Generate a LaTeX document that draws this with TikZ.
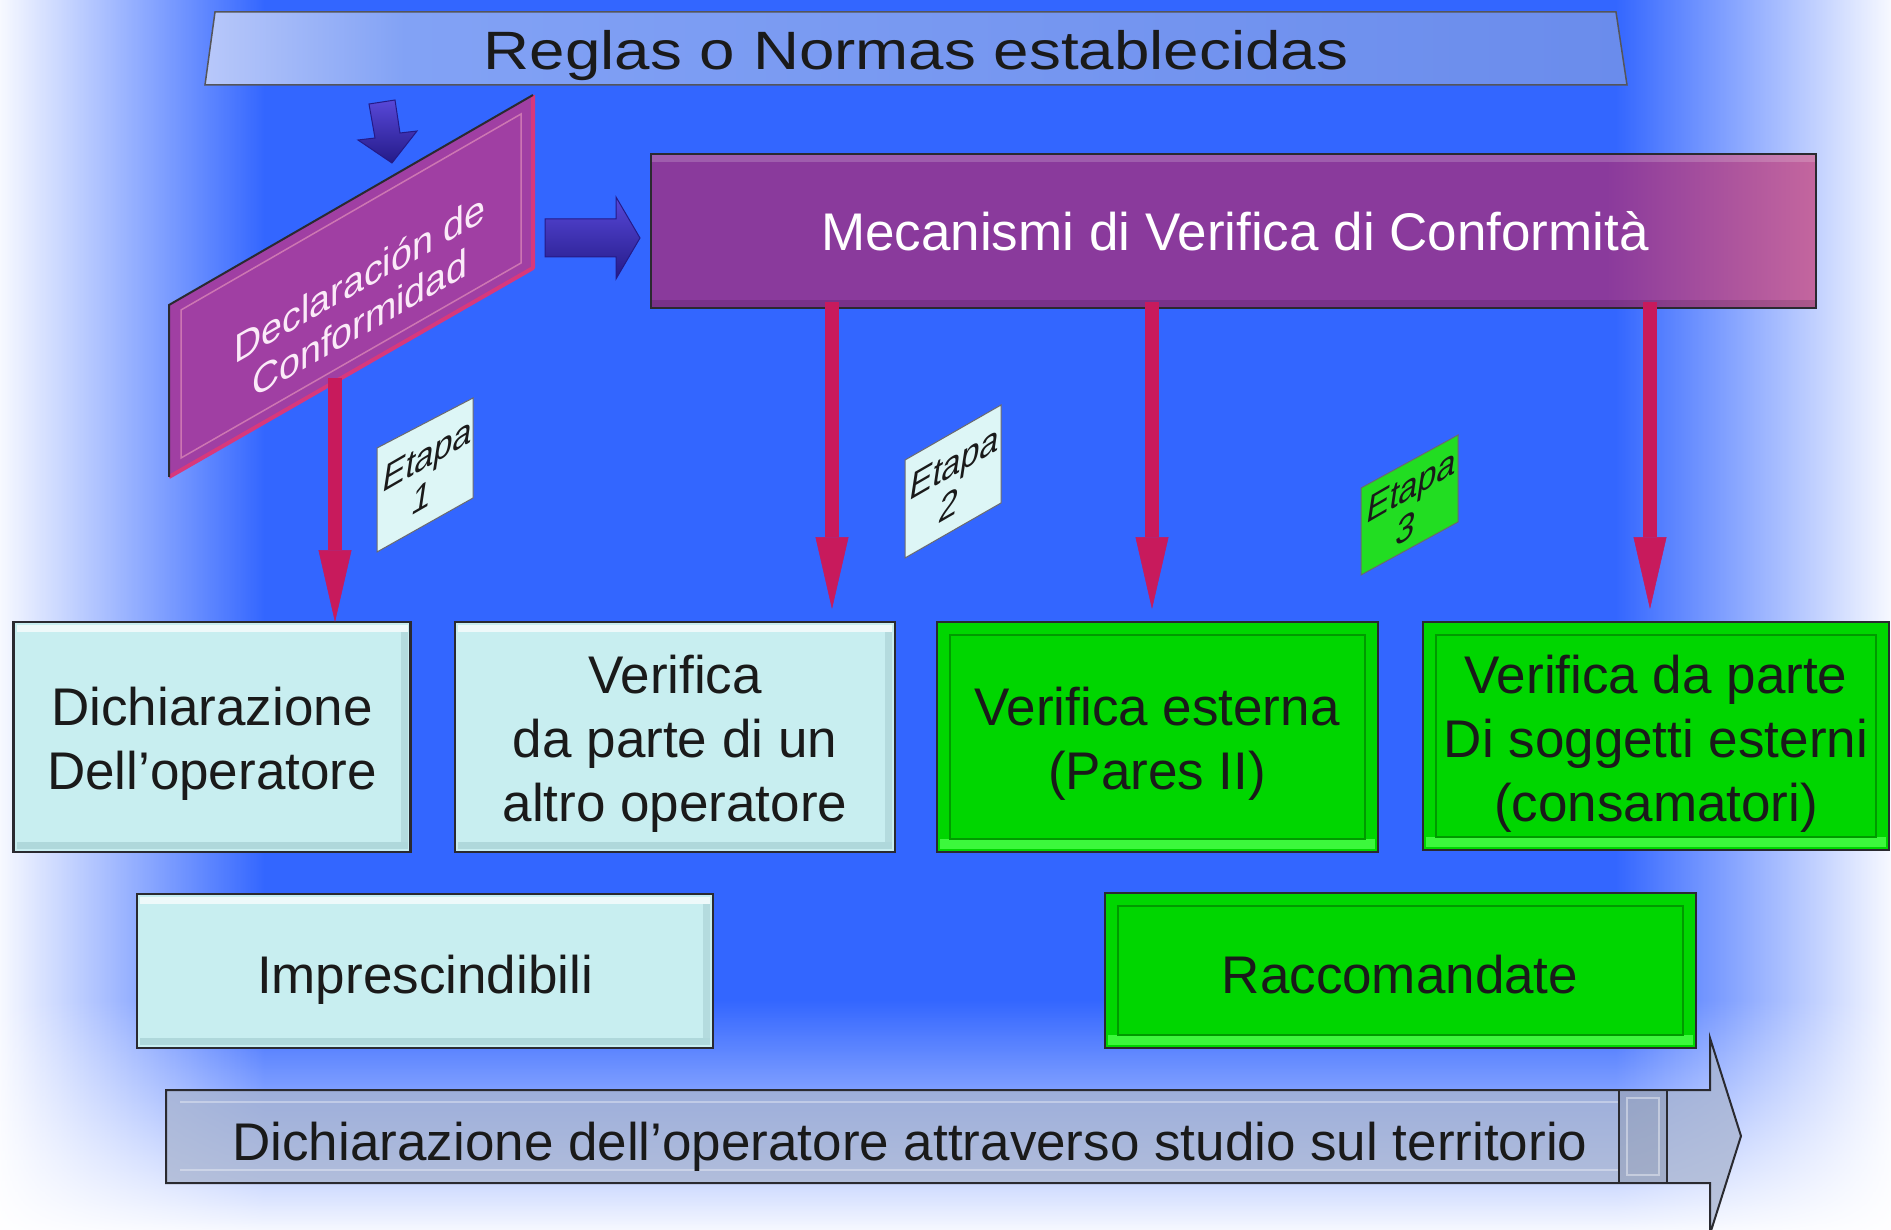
\documentclass[tikz,border=0pt]{standalone}
\usepackage{fontspec}
\setmainfont{Liberation Sans}
\usetikzlibrary{arrows.meta,calc,fadings}

\definecolor{bgblue}{HTML}{3366FF}
\definecolor{cyanfill}{HTML}{C8EEF0}
\definecolor{cyanlo}{HTML}{9CC6CA}
\definecolor{greenfill}{HTML}{00D600}
\definecolor{greenhi}{HTML}{3CF83C}
\definecolor{greenlo}{HTML}{009A00}
\definecolor{crimson}{HTML}{C81A5C}
\definecolor{mecL}{HTML}{8A3A9C}
\definecolor{mecR}{HTML}{C4669E}
\definecolor{declfill}{HTML}{A03FA3}
\definecolor{declpink}{HTML}{D8387C}
\definecolor{declt}{HTML}{FBEAF8}
\definecolor{navyhi}{HTML}{5848D8}
\definecolor{navylo}{HTML}{241A88}
\definecolor{etapacyan}{HTML}{DDF6F6}
\definecolor{etapagreen}{HTML}{22DD22}
\definecolor{edge}{HTML}{2A2A30}
\definecolor{banL}{HTML}{B8C8FA}
\definecolor{banM}{HTML}{82A2F5}
\definecolor{banR}{HTML}{6A8CEC}
\definecolor{arrowfill}{HTML}{A8B4D0}
\definecolor{darktext}{HTML}{1A1A1A}

\pgfdeclarehorizontalshading{mecshade}{100bp}{color(0bp)=(mecL); color(25bp)=(mecL); color(66bp)=(mecL); color(75bp)=(mecR); color(100bp)=(mecR)}
\pgfdeclarehorizontalshading{banshade}{100bp}{color(0bp)=(banL); color(25bp)=(banL); color(32bp)=(banM); color(75bp)=(banR); color(100bp)=(banR)}

\tikzfading[name=fadeL, left color=transparent!0, right color=transparent!100]
\tikzfading[name=fadeR, left color=transparent!100, right color=transparent!0]
\tikzfading[name=fadeB, top color=transparent!100, bottom color=transparent!0]

\tikzset{
  txt/.style={font=\fontsize{53}{64}\selectfont, align=center, text=darktext, inner sep=0pt},
  cyanbox/.style={draw=edge, line width=2.5pt, fill=cyanfill, inner sep=0pt, outer sep=0pt},
  greenbox/.style={draw=edge, line width=2.5pt, fill=greenfill, inner sep=0pt, outer sep=0pt},
  redarrow/.style={draw=crimson, line width=14pt, -{Triangle[width=33pt,length=72pt,line width=0.5pt]}},
  etapat/.style={font=\fontsize{40}{43}\selectfont, align=center, cm={0.85,0.49,0.15,1,(0,0)}, inner sep=0pt, text=darktext},
  etapabox/.style={draw=edge!70, line width=1pt},
  decltxt/.style={font=\fontsize{40}{45}\selectfont, align=center, cm={0.94,0.54,0,1,(0,0)}, inner sep=0pt, text=declt},
}

\newcommand{\gbevel}[1]{%
  \fill[greenhi] ($(#1.south west)+(3,-3)$) rectangle ($(#1.south east)+(-3,-13)$);
  \draw[greenlo, line width=1.5pt] ($(#1.north west)+(13,13)$) rectangle ($(#1.south east)+(-13,-13)$);
}
\newcommand{\cbevel}[1]{%
  \fill[white, opacity=.7] ($(#1.north west)+(3,3)$) rectangle ($(#1.north east)+(-3,10)$);
  \fill[cyanlo, opacity=.55] ($(#1.south west)+(3,-3)$) rectangle ($(#1.south east)+(-3,-10)$);
  \fill[cyanlo, opacity=.45] ($(#1.north east)+(-3,10)$) rectangle ($(#1.south east)+(-10,-10)$);
}

\begin{document}
\begin{tikzpicture}[x=1pt,y=-1pt]
\useasboundingbox (0,0) rectangle (1891,1230);
% background
\fill[bgblue] (-10,-10) rectangle (1901,1240);
\fill[white, path fading=fadeL] (-10,-20) rectangle (265,1250);
\fill[white, path fading=fadeR] (1615,-20) rectangle (1901,1250);
\fill[white, path fading=fadeB] (-20,1000) rectangle (1911,1240);

% banner
\shadedraw[shading=banshade, draw=edge!80, line width=1.5pt] (215,12) -- (1616,12) -- (1627,85) -- (205,85) -- cycle;
\node[font=\fontsize{54}{60}\selectfont, text=darktext, anchor=base, inner sep=0pt] (reglas) at (916,70) {\scalebox{1.18}[1]{Reglas o Normas establecidas}};

% small navy arrow
\shadedraw[top color=navyhi, bottom color=navylo, draw=navylo, line width=1pt]
  (395,100) -- (369,104) -- (375,138) -- (358,140) -- (392,163) -- (417,131) -- (400,133) -- cycle;

% Declaracion box
\fill[declfill] (169,305) -- (533,95) -- (533,268) -- (169,477) -- cycle;
\draw[declpink!50!white, line width=1.5pt, opacity=.6] (181,310) -- (521,114) -- (521,263) -- (181,458) -- cycle;
\draw[declpink, line width=4pt, line join=round] (533,95) -- (533,268) -- (169,477);
\draw[edge, line width=2pt] (169,477) -- (169,305) -- (533,95);
\node[decltxt] (decl) at (360,300) {Declaración de\\Conformidad};

% navy arrow to Mecanismi
\shadedraw[top color=navyhi, bottom color=navylo, draw=navylo, line width=1pt]
  (545,219) -- (616,219) -- (616,197) -- (640,238) -- (616,279) -- (616,257) -- (545,257) -- cycle;

% Mecanismi box
\node[shade, shading=mecshade, draw=edge, line width=2pt, minimum width=1165pt, minimum height=154pt, inner sep=0pt] (mec) at (1233.5,231) {};
\fill[white, opacity=.18] ($(mec.north west)+(2,2)$) rectangle ($(mec.north east)+(-2,9)$);
\fill[black, opacity=.12] ($(mec.south west)+(2,-2)$) rectangle ($(mec.south east)+(-2,-9)$);
\node[txt, text=white, anchor=base] (mectxt) at (1235,251) {Mecanismi di Verifica di Conformità};

% Etapa labels
\filldraw[etapabox, fill=etapacyan] (377,448) -- (473,398) -- (473,498) -- (377,552) -- cycle;
\node[etapat] (e1) at (425,476) {Etapa\\1};
\filldraw[etapabox, fill=etapacyan] (905,460) -- (1001,405) -- (1001,503) -- (905,558) -- cycle;
\node[etapat] (e2) at (952,484) {Etapa\\2};
\filldraw[etapabox, fill=etapagreen] (1361,488) -- (1458,435) -- (1458,522) -- (1361,575) -- cycle;
\node[etapat] (e3) at (1409,507) {Etapa\\3};

% row 1 boxes
\node[cyanbox, minimum width=397pt, minimum height=230pt] (b1) at (212,737) {};
\cbevel{b1}
\node[txt] (l1) at (212,744) {Dichiarazione\\Dell’operatore};
\node[cyanbox, minimum width=440pt, minimum height=230pt] (b2) at (675,737) {};
\cbevel{b2}
\node[txt] (l2) at (675,744) {Verifica\\da parte di un\\altro operatore};
\node[greenbox, minimum width=441pt, minimum height=230pt] (b3) at (1157.5,737) {};
\gbevel{b3}
\node[txt] (l3) at (1157,744) {Verifica esterna\\(Pares II)};
\node[greenbox, minimum width=466pt, minimum height=228pt] (b4) at (1656,736) {};
\gbevel{b4}
\node[txt] (l4) at (1656,744) {Verifica da parte\\Di soggetti esterni\\(consamatori)};

% row 2 boxes
\node[cyanbox, minimum width=576pt, minimum height=154pt] (b5) at (425,971) {};
\cbevel{b5}
\node[txt, anchor=base] (l5) at (425,993) {Imprescindibili};
\node[greenbox, minimum width=591pt, minimum height=155pt] (b6) at (1400.5,970.5) {};
\gbevel{b6}
\node[txt, anchor=base] (l6) at (1400,993) {Raccomandate};

% red arrows
\coordinate (dfoot) at (335,378);
\coordinate (m2) at (832,302);
\coordinate (m3) at (1152,302);
\coordinate (m4) at (1650,302);
\draw[redarrow] (dfoot) -- (dfoot |- b1.north);
\draw[redarrow] (m2) -- ($(m2 |- b2.north)+(0,-13)$);
\draw[redarrow] (m3) -- ($(m3 |- b3.north)+(0,-13)$);
\draw[redarrow] (m4) -- ($(m4 |- b4.north)+(0,-13)$);

% bottom arrow
\fill[arrowfill, fill opacity=.75] (166,1090) -- (1710,1090) -- (1710,1038) -- (1741,1136) -- (1710,1234) -- (1710,1183) -- (166,1183) -- cycle;
\draw[white, opacity=.35, line width=1.5pt] (180,1102) -- (1619,1102);
\draw[white, opacity=.35, line width=1.5pt] (180,1170) -- (1619,1170);
\draw[edge, line width=2pt, line join=miter] (166,1090) -- (1710,1090) -- (1710,1038) -- (1741,1136) -- (1710,1234) -- (1710,1183) -- (166,1183) -- cycle;
\draw[edge, line width=2pt, fill=arrowfill!80!black, fill opacity=.35] (1619,1090) rectangle (1667,1183);
\draw[white, opacity=.4, line width=1.5pt] (1627,1098) rectangle (1659,1175);
\node[txt, anchor=base] (bottxt) at (910,1160) {Dichiarazione dell’operatore attraverso studio sul territorio};
\end{tikzpicture}
\end{document}
